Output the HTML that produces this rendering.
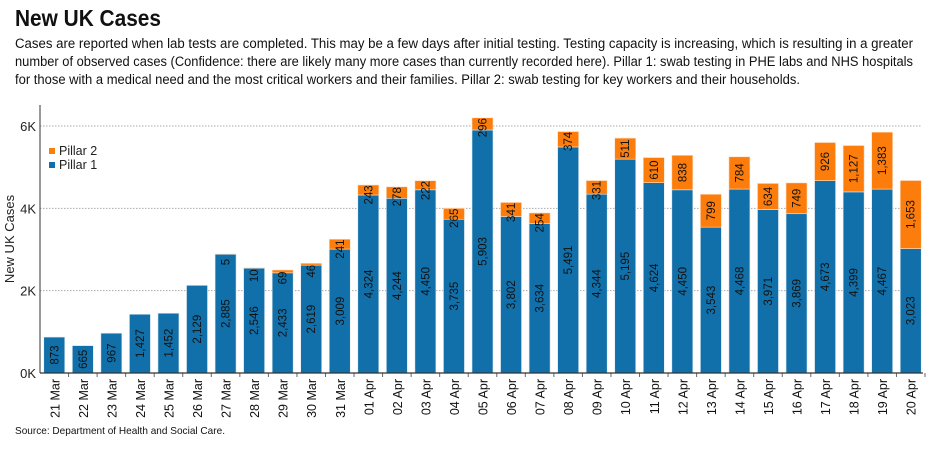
<!DOCTYPE html>
<html><head><meta charset="utf-8"><style>
body{margin:0;background:#fff;width:939px;height:453px;overflow:hidden;font-family:"Liberation Sans",sans-serif}
</style></head><body>
<svg id="chart" width="939" height="453" xmlns="http://www.w3.org/2000/svg">
<text x="15" y="26" font-size="23" font-weight="bold" fill="#111" textLength="146" lengthAdjust="spacingAndGlyphs">New UK Cases</text>
<g font-size="13.5" fill="#111">
<text x="15" y="48" textLength="898" lengthAdjust="spacingAndGlyphs">Cases are reported when lab tests are completed. This may be a few days after initial testing. Testing capacity is increasing, which is resulting in a greater</text>
<text x="15" y="66" textLength="898" lengthAdjust="spacingAndGlyphs">number of observed cases (Confidence: there are likely many more cases than currently recorded here). Pillar 1: swab testing in PHE labs and NHS hospitals</text>
<text x="15" y="84" textLength="785" lengthAdjust="spacingAndGlyphs">for those with a medical need and the most critical workers and their families. Pillar 2: swab testing for key workers and their households.</text>
</g>
<text x="15" y="434" font-size="10.5" fill="#111" textLength="210" lengthAdjust="spacingAndGlyphs">Source: Department of Health and Social Care.</text>
<g id="plot"></g>
</svg>
<script>
const categories=["21 Mar","22 Mar","23 Mar","24 Mar","25 Mar","26 Mar","27 Mar","28 Mar","29 Mar","30 Mar","31 Mar","01 Apr","02 Apr","03 Apr","04 Apr","05 Apr","06 Apr","07 Apr","08 Apr","09 Apr","10 Apr","11 Apr","12 Apr","13 Apr","14 Apr","15 Apr","16 Apr","17 Apr","18 Apr","19 Apr","20 Apr"];
const pillar1=[873,665,967,1427,1452,2129,2885,2546,2433,2619,3009,4324,4244,4450,3735,5903,3802,3634,5491,4344,5195,4624,4450,3543,4468,3971,3869,4673,4399,4467,3023];
const pillar2=[0,0,0,0,0,0,5,10,69,46,241,243,278,222,265,296,341,254,374,331,511,610,838,799,784,634,749,926,1127,1383,1653];
const yTicks=[0,2000,4000,6000];
const yTickLabels=["0K","2K","4K","6K"];
const NS="http://www.w3.org/2000/svg";
const g=document.getElementById('plot');
const x0=40,x1=925,yBase=373,yTop=126,yMaxVal=6000;
const step=(x1-x0)/categories.length, bw=21;
const y=v=>yBase-(v/yMaxVal)*(yBase-yTop);
const xc=i=>x0+step*(i+0.5);
function mk(t,a){const e=document.createElementNS(NS,t);for(const k in a)e.setAttribute(k,a[k]);g.appendChild(e);return e;}
const fmt=v=>v.toLocaleString('en-US');
yTicks.forEach((t,i)=>{
 if(t>0){const l=mk('line',{x1:x0,x2:x1-3,y1:y(t),y2:y(t),stroke:'#aaa','stroke-dasharray':'1.5,1.5','stroke-width':1});
 
 }
 const tl=mk('text',{x:x0-4,y:y(t)+5,'font-size':13,'text-anchor':'end',fill:'#222'});tl.textContent=yTickLabels[i];
 
 
});
categories.forEach((c,i)=>{
 const cx=xc(i);
 const b1=mk('rect',{x:cx-bw/2,y:y(pillar1[i]),width:bw,height:yBase-y(pillar1[i]),fill:'#1170aa',stroke:'#dfe9f2','stroke-width':0.6});
 
 
 if(pillar2[i]>0){
  const b2=mk('rect',{x:cx-bw/2,y:y(pillar1[i]+pillar2[i]),width:bw,height:y(pillar1[i])-y(pillar1[i]+pillar2[i]),fill:'#fc7d0b',stroke:'#fde0c8','stroke-width':0.6});
  
  
 }
 const ym=(yBase+y(pillar1[i]))/2;
 const t1=mk('text',{x:0,y:0,'font-size':11.5,'text-anchor':'middle',fill:'#111',transform:`translate(${cx+4},${ym}) rotate(-90)`});t1.textContent=fmt(pillar1[i]);
 
 
 if(pillar2[i]>0){
  const top=y(pillar1[i]+pillar2[i]);
  const ym2=Math.max((top+y(pillar1[i]))/2, top+ (fmt(pillar2[i]).length*3.3));
  const t2=mk('text',{x:0,y:0,'font-size':11.5,'text-anchor':'middle',fill:'#111',transform:`translate(${cx+4},${pillar2[i]<150?top+8:ym2}) rotate(-90)`});t2.textContent=fmt(pillar2[i]);
  
  
 }
 const tk=mk('line',{x1:x0+step*(i+1),x2:x0+step*(i+1),y1:yBase,y2:yBase+4,stroke:'#666'});
 
 
 const xl=mk('text',{x:0,y:0,'font-size':12.5,'text-anchor':'end',fill:'#111',transform:`translate(${cx+5},${yBase+6}) rotate(-90)`});xl.textContent=c;
 
 
});
const ax=mk('line',{x1:x0,x2:x0,y1:105,y2:yBase,stroke:'#333','stroke-width':1});


const bx=mk('line',{x1:x0,x2:x1-2,y1:yBase,y2:yBase,stroke:'#333','stroke-width':1.3});


const yt=mk('text',{x:0,y:0,'font-size':13,'text-anchor':'middle',fill:'#222',transform:'translate(14,239) rotate(-90)'});yt.textContent='New UK Cases';


[['Pillar 2','#fc7d0b',153],['Pillar 1','#1170aa',167]].forEach(([n,col,yy])=>{
 const r=mk('rect',{x:49,y:yy-5,width:6,height:6,fill:col});
 
 
 const t=mk('text',{x:59,y:yy+2,'font-size':12.5,fill:'#222'});t.textContent=n;
 
 
});
</script>
</body></html>
